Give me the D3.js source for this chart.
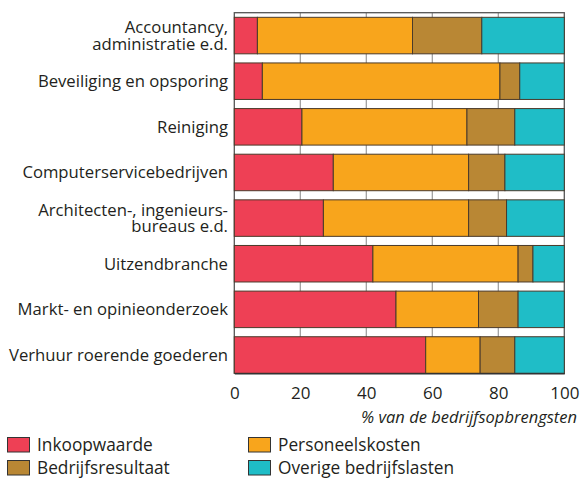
<!DOCTYPE html>
<html lang="nl">
<head>
  <meta charset="UTF-8">
  <title>Kostenstructuur zakelijke diensten</title>
  <script src="https://d3js.org/d3.v7.min.js"></script>
  <style>
    body { margin: 0; background: #fff; }
    text { font-family: "Open Sans", sans-serif; fill: #231f20; }
  </style>
</head>
<body>
  <div id="chart"></div>

  <script>
    // branches, van boven naar onder
    const branches = [
      ['Accountancy,', 'administratie e.d.'],
      ['Beveiliging en opsporing'],
      ['Reiniging'],
      ['Computerservicebedrijven'],
      ['Architecten-, ingenieurs-', 'bureaus e.d.'],
      ['Uitzendbranche'],
      ['Markt- en opinieonderzoek'],
      ['Verhuur roerende goederen']
    ];

    const series = ['Inkoopwaarde', 'Personeelskosten', 'Bedrijfsresultaat', 'Overige bedrijfslasten'];

    // % van de bedrijfsopbrengsten, in volgorde van branches
    const inkoopwaarde      = [7,  8.5, 20.5, 30, 27,   42,  49, 58];
    const personeelskosten  = [47, 72,  50,   41, 44,   44,  25, 16.5];
    const bedrijfsresultaat = [21, 6,   14.5, 11, 11.5, 4.5, 12, 10.5];
    const overige           = [25, 13.5, 15,  18, 17.5, 9.5, 14, 15];

    const xTicks = [0, 20, 40, 60, 80, 100];
    const colors = ['#ee4055', '#f8a51c', '#b98734', '#1fbdc7'];

    const width = 582, height = 479;
    const svg = d3.select('#chart').append('svg')
      .attr('width', width)
      .attr('height', height);

    const names = branches.map(b => b.join(' '));
    const rows = names.map((n, i) => ({
      name: n,
      Inkoopwaarde: inkoopwaarde[i],
      Personeelskosten: personeelskosten[i],
      Bedrijfsresultaat: bedrijfsresultaat[i],
      'Overige bedrijfslasten': overige[i]
    }));

    const x = d3.scaleLinear().domain([0, 100]).range([234.3, 564.3]);
    const y = d3.scaleBand().domain(names).range([12.75, 377.8])
      .paddingInner(0.2).paddingOuter(0.1);
    const color = d3.scaleOrdinal().domain(series).range(colors);

    const plotTop = 12.7;
    const plotBottom = y(names[names.length - 1]) + y.bandwidth();

    // rasterlijnen
    svg.append('g').selectAll('line')
      .data(xTicks.slice(1, -1))
      .join('line')
      .attr('x1', d => x(d)).attr('x2', d => x(d))
      .attr('y1', plotTop).attr('y2', plotBottom)
      .attr('stroke', '#9a9a9a')
      .attr('stroke-width', 1.2);

    // kader
    svg.append('rect')
      .attr('x', x(0)).attr('y', plotTop)
      .attr('width', x(100) - x(0)).attr('height', plotBottom - plotTop)
      .attr('fill', 'none')
      .attr('stroke', '#555')
      .attr('stroke-width', 1.3);

    const stacked = d3.stack().keys(series)(rows);

    svg.append('g').selectAll('g')
      .data(stacked)
      .join('g')
      .attr('fill', d => color(d.key))
      .selectAll('rect')
      .data(d => d)
      .join('rect')
      .attr('x', d => x(d[0]))
      .attr('y', d => y(d.data.name))
      .attr('width', d => x(d[1]) - x(d[0]))
      .attr('height', y.bandwidth())
      .attr('stroke', '#4a3a2a')
      .attr('stroke-width', 1);

    // x-as
    const xAxis = svg.append('g')
      .attr('transform', `translate(0,${plotBottom})`)
      .call(d3.axisBottom(x).tickValues(xTicks).tickSize(0).tickPadding(14));
    xAxis.select('.domain').attr('stroke', '#333').attr('stroke-width', 1.3);
    xAxis.selectAll('text')
      .attr('font-size', '17px')
      .attr('font-family', '"Open Sans", sans-serif')
      .attr('fill', '#231f20');

    svg.append('text')
      .attr('x', 577).attr('y', 423)
      .attr('text-anchor', 'end')
      .attr('font-style', 'italic')
      .attr('font-size', '16.5px')
      .text('% van de bedrijfsopbrengsten');

    // categorielabels
    const labels = svg.append('g').selectAll('text')
      .data(branches)
      .join('text')
      .attr('text-anchor', 'end')
      .attr('font-size', '16.7px')
      .attr('x', 228)
      .attr('y', (d, i) => y(names[i]) + y.bandwidth() / 2);
    labels.selectAll('tspan')
      .data(d => d.map((line, j) => ({ line, j, n: d.length })))
      .join('tspan')
      .attr('x', 228)
      .attr('dy', d => d.j === 0 ? `${0.35 - (d.n - 1) * 0.5}em` : '1em')
      .text(d => d.line);

    // legenda
    const legend = svg.append('g').selectAll('g')
      .data(series)
      .join('g')
      .attr('transform', (d, i) => `translate(${i % 2 === 0 ? 7.5 : 248.5},${i < 2 ? 437.5 : 460.5})`);
    legend.append('rect')
      .attr('width', 22).attr('height', 14.5)
      .attr('fill', d => color(d))
      .attr('stroke', '#333').attr('stroke-width', 1);
    legend.append('text')
      .attr('x', 29.5).attr('y', 7.5).attr('dy', '0.35em')
      .attr('font-size', '17.3px')
      .text(d => d);
  </script>
</body>
</html>
